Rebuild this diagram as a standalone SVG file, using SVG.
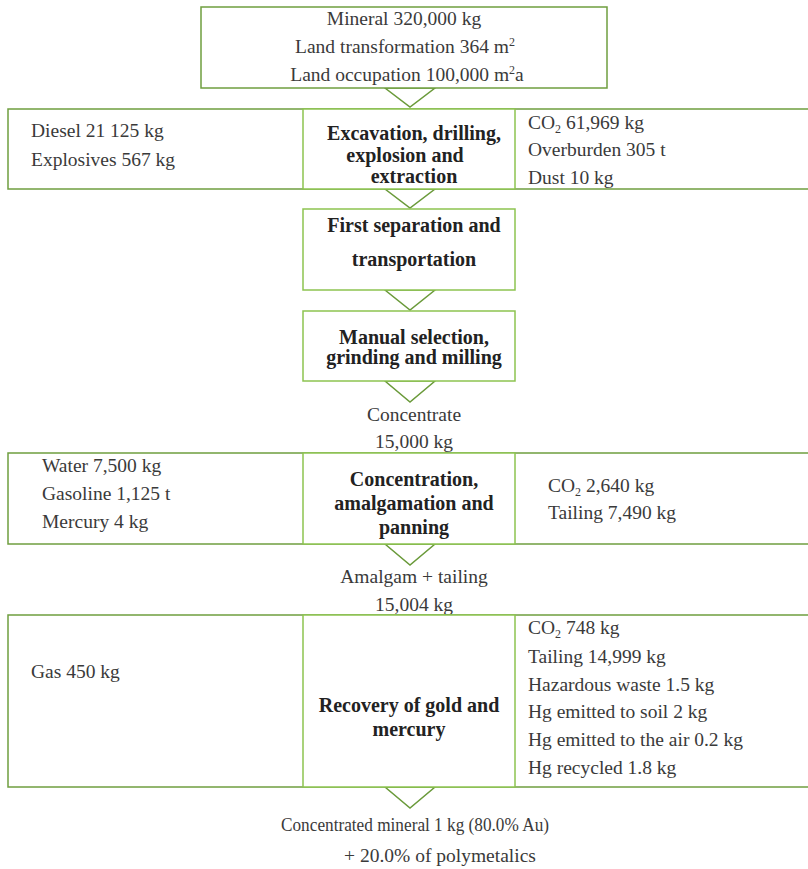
<svg xmlns="http://www.w3.org/2000/svg" width="808" height="869" viewBox="0 0 808 869" font-family="Liberation Serif, Times New Roman, serif">
<style>
.o{fill:#fff;stroke:#6f9e3f;stroke-width:1.5}
.c{fill:#fff;stroke:#8dc350;stroke-width:1.5}
.t{fill:#fff;stroke:#6a9a3a;stroke-width:1.5;stroke-linejoin:miter}
text{font-size:19.5px;fill:#3a3a3a}
.b{font-weight:bold;font-size:20px;fill:#222}
.m{text-anchor:middle}
</style>
<rect width="808" height="869" fill="#fff"/>
<g id="connectors">
<polygon class="t" points="385,88 435,88 410,107"/>
<polygon class="t" points="385,189 435,189 410,208"/>
<polygon class="t" points="385,290 435,290 410,310"/>
<polygon class="t" points="385,381 435,381 410,402"/>
<polygon class="t" points="385,544 435,544 410,565"/>
<polygon class="t" points="385,787 435,787 410,808"/>
</g>
<g id="input-top">
<rect class="o" x="201" y="7" width="406" height="81"/>
<text class="m" x="404" y="25">Mineral 320,000 kg</text>
<text class="m" x="405" y="53">Land transformation 364 m<tspan dy="-7" font-size="12">2</tspan></text>
<text class="m" x="407" y="81">Land occupation 100,000 m<tspan dy="-7" font-size="12">2</tspan><tspan dy="7">a</tspan></text>
</g>
<g id="row1">
<rect class="o" x="8" y="109" width="810" height="80"/>
<rect class="c" x="303" y="109" width="212" height="80"/>
<text x="31" y="137">Diesel 21 125 kg</text>
<text x="31" y="166">Explosives 567 kg</text>
<text class="m b" x="414" y="140">Excavation, drilling,</text>
<text class="m b" x="405" y="162">explosion and</text>
<text class="m b" x="414" y="183">extraction</text>
<text x="528" y="129">CO<tspan dy="4" font-size="12">2</tspan><tspan dy="-4"> 61,969 kg</tspan></text>
<text x="528" y="156">Overburden 305 t</text>
<text x="528" y="184">Dust 10 kg</text>
</g>
<g id="step2">
<rect class="c" x="303" y="209" width="212" height="81"/>
<text class="m b" x="414" y="232">First separation and</text>
<text class="m b" x="414" y="266">transportation</text>
</g>
<g id="step3">
<rect class="c" x="303" y="311" width="212" height="70"/>
<text class="m b" x="414" y="344">Manual selection,</text>
<text class="m b" x="414" y="364">grinding and milling</text>
</g>
<g id="concentrate">
<text class="m" x="414" y="421">Concentrate</text>
<text class="m" x="414" y="448">15,000 kg</text>
</g>
<g id="row2">
<rect class="o" x="8" y="453" width="810" height="91"/>
<rect class="c" x="303" y="453" width="212" height="91"/>
<text x="42" y="472">Water 7,500 kg</text>
<text x="42" y="500">Gasoline 1,125 t</text>
<text x="42" y="528">Mercury 4 kg</text>
<text class="m b" x="414" y="486">Concentration,</text>
<text class="m b" x="414" y="510">amalgamation and</text>
<text class="m b" x="414" y="534">panning</text>
<text x="548" y="492">CO<tspan dy="4" font-size="12">2</tspan><tspan dy="-4"> 2,640 kg</tspan></text>
<text x="548" y="519">Tailing 7,490 kg</text>
</g>
<g id="amalgam">
<text class="m" x="414" y="583">Amalgam + tailing</text>
<text class="m" x="414" y="611">15,004 kg</text>
</g>
<g id="row3">
<rect class="o" x="8" y="615" width="810" height="172"/>
<rect class="c" x="303" y="615" width="212" height="172"/>
<text x="31" y="678">Gas 450 kg</text>
<text class="m b" x="409" y="712">Recovery of gold and</text>
<text class="m b" x="409" y="736">mercury</text>
<text x="528" y="634">CO<tspan dy="4" font-size="12">2</tspan><tspan dy="-4"> 748 kg</tspan></text>
<text x="528" y="663">Tailing 14,999 kg</text>
<text x="528" y="691">Hazardous waste 1.5 kg</text>
<text x="528" y="718">Hg emitted to soil 2 kg</text>
<text x="528" y="746">Hg emitted to the air 0.2 kg</text>
<text x="528" y="774">Hg recycled 1.8 kg</text>
</g>
<g id="output">
<text x="281" y="831" textLength="268" lengthAdjust="spacingAndGlyphs">Concentrated mineral 1 kg (80.0% Au)</text>
<text class="m" x="440" y="862">+ 20.0% of polymetalics</text>
</g>
</svg>
